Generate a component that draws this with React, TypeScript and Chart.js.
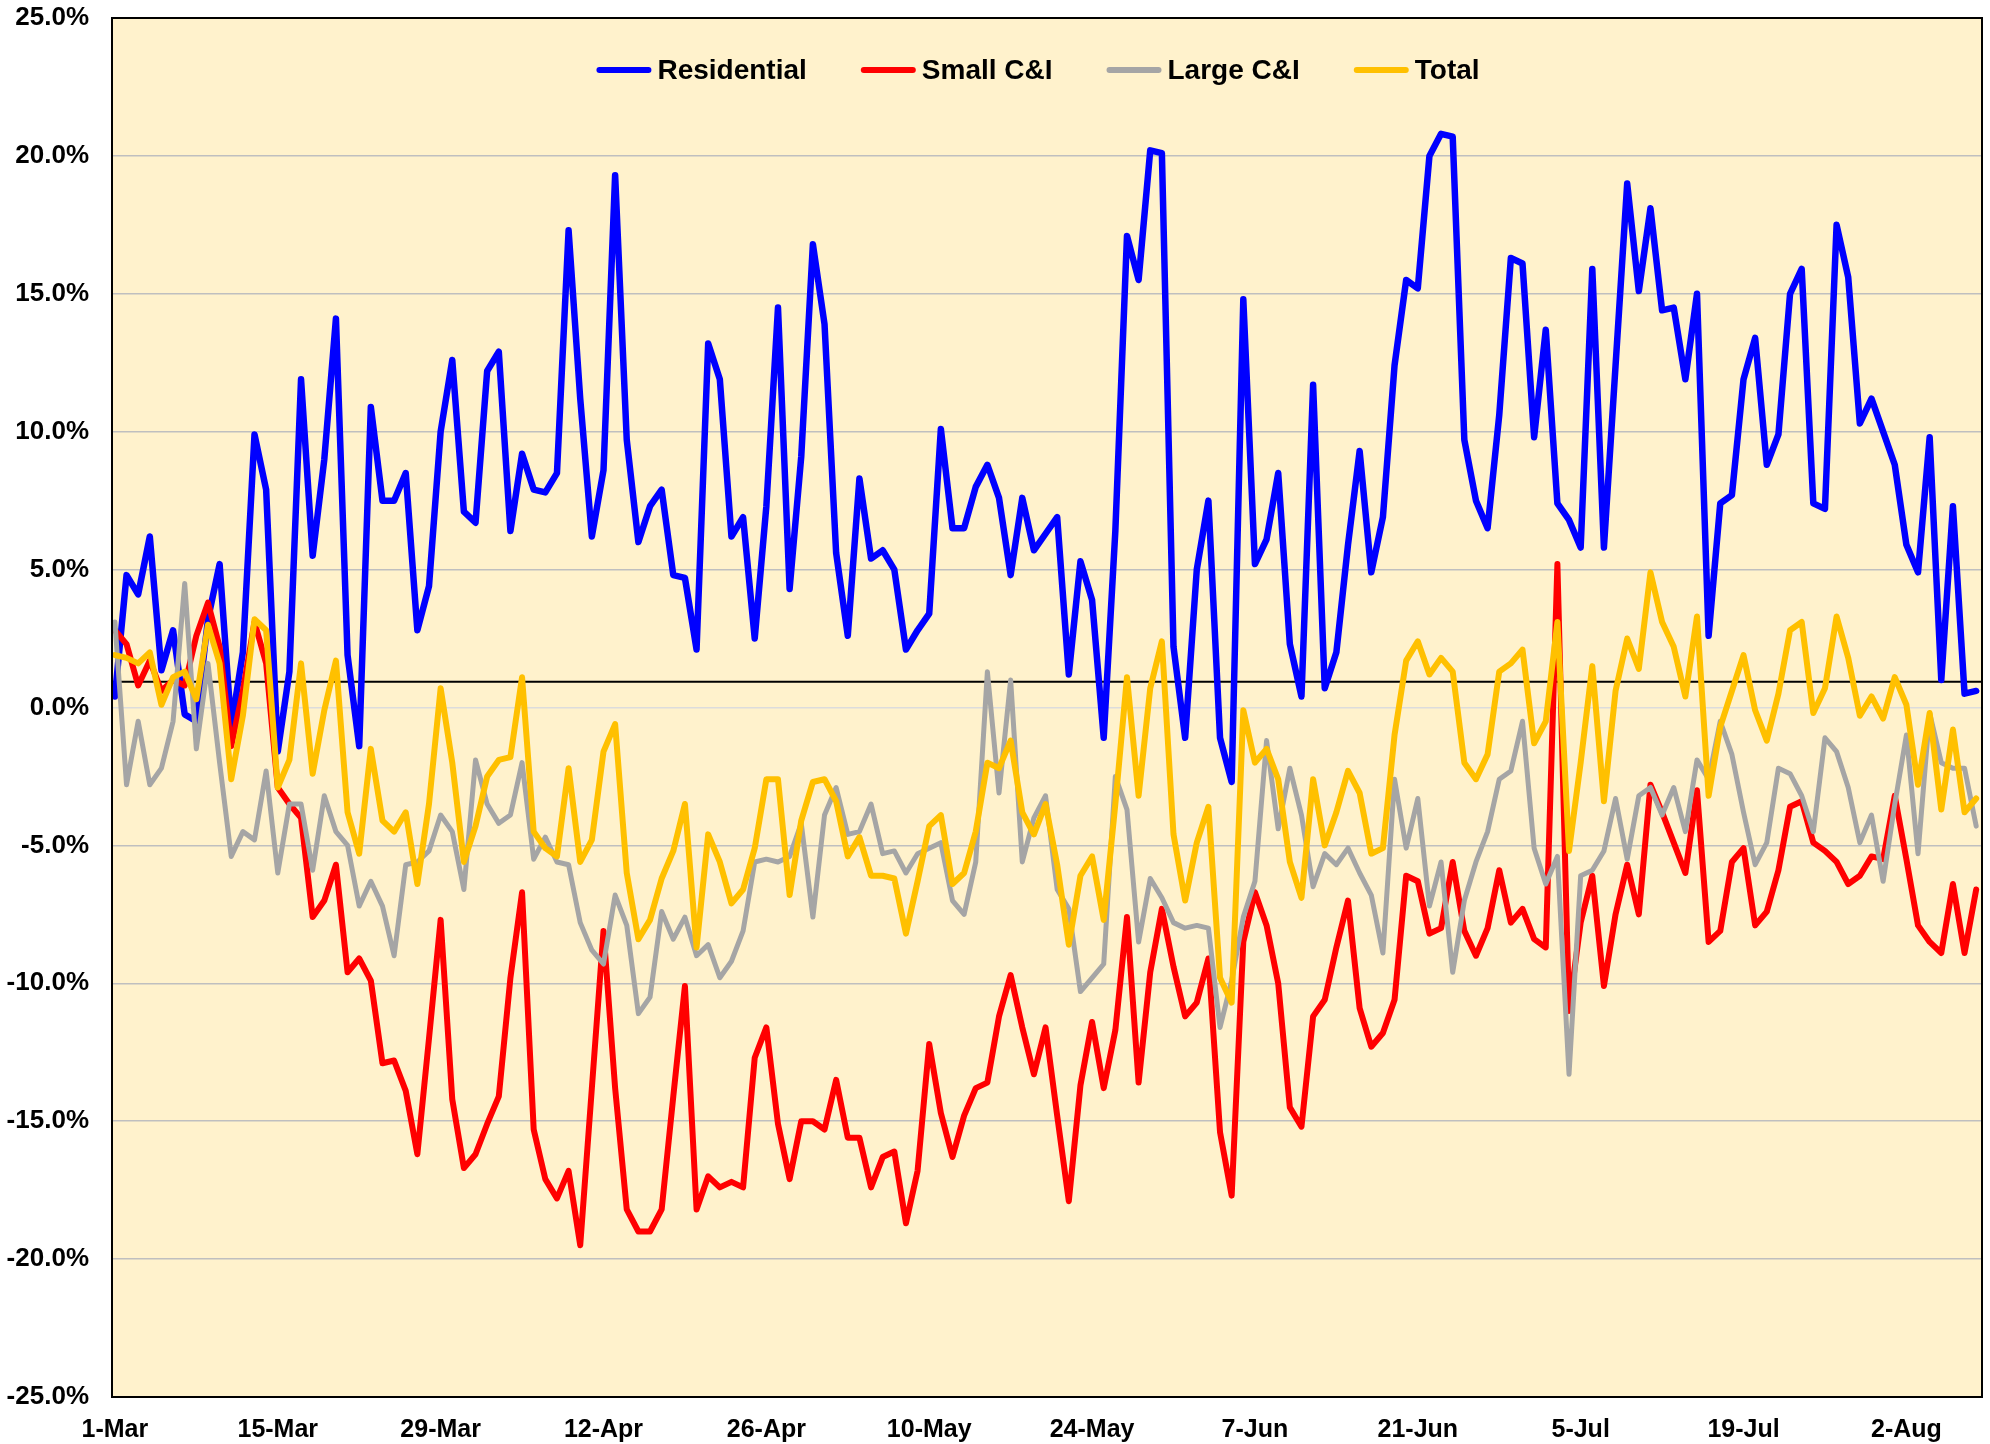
import React, { useEffect, useRef } from 'react';
import { Chart, registerables } from 'chart.js';

Chart.register(...registerables);

const tickDays = [0, 14, 28, 42, 56, 70, 84, 98, 112, 126, 140, 154];
const tickLabels = ['1-Mar', '15-Mar', '29-Mar', '12-Apr', '26-Apr', '10-May', '24-May', '7-Jun', '21-Jun', '5-Jul', '19-Jul', '2-Aug'];
const yTickValues = [-25, -20, -15, -10, -5, 0, 5, 10, 15, 20, 25];

const residential = [
  0.4, 4.8, 4.1, 6.2, 1.35, 2.8, -0.25, -0.5, 3.2, 5.2,
  -0.7, 2.0, 9.9, 7.9, -1.6, 1.3, 11.9, 5.5, 9.0, 14.1,
  1.9, -1.4, 10.9, 7.5, 7.5, 8.5, 2.8, 4.4, 10.0, 12.6,
  7.1, 6.7, 12.2, 12.9, 6.4, 9.2, 7.9, 7.8, 8.5, 17.3,
  11.2, 6.2, 8.6, 19.3, 9.7, 6.0, 7.3, 7.9, 4.8, 4.7,
  2.1, 13.2, 11.9, 6.2, 6.9, 2.5, 7.3, 14.5, 4.3, 9.1,
  16.8, 13.9, 5.6, 2.6, 8.3, 5.4, 5.7, 5.0, 2.1, 2.8,
  3.4, 10.1, 6.5, 6.5, 8.0, 8.8, 7.6, 4.8, 7.6, 5.7,
  6.3, 6.9, 1.2, 5.3, 3.9, -1.1, 6.4, 17.1, 15.5, 20.2,
  20.1, 2.2, -1.1, 5.0, 7.5, -1.1, -2.7, 14.8, 5.2, 6.1,
  8.5, 2.3, 0.4, 11.7, 0.7, 2.0, 5.9, 9.3, 4.9, 6.9,
  12.4, 15.5, 15.2, 20.0, 20.8, 20.7, 9.7, 7.5, 6.5, 10.6,
  16.3, 16.1, 9.8, 13.7, 7.4, 6.8, 5.8, 15.9, 5.8, 12.4,
  19.0, 15.1, 18.1, 14.4, 14.5, 11.9, 15.0, 2.6, 7.4, 7.7,
  11.9, 13.4, 8.8, 9.9, 15.0, 15.9, 7.4, 7.2, 17.5, 15.6,
  10.3, 11.2, 10.0, 8.8, 5.9, 4.9, 9.8, 1.0, 7.3, 0.5,
  0.6,
];

const smallCI = [
  2.8, 2.3, 0.8, 1.7, 0.6, 1.0, 0.8, 2.6, 3.8, 2.2,
  -1.4, 0.6, 3.1, 1.6, -2.9, -3.5, -4.0, -7.6, -7.0, -5.7,
  -9.6, -9.1, -9.9, -12.9, -12.8, -13.9, -16.2, -12.0, -7.7, -14.2,
  -16.7, -16.2, -15.1, -14.1, -9.8, -6.7, -15.3, -17.1, -17.8, -16.8,
  -19.5, -13.8, -8.1, -13.8, -18.2, -19.0, -19.0, -18.2, -14.1, -10.1,
  -18.2, -17.0, -17.4, -17.2, -17.4, -12.7, -11.6, -15.1, -17.1, -15.0,
  -15.0, -15.3, -13.5, -15.6, -15.6, -17.4, -16.3, -16.1, -18.7, -16.8,
  -12.2, -14.7, -16.3, -14.8, -13.8, -13.6, -11.2, -9.7, -11.6, -13.3,
  -11.6, -14.8, -17.9, -13.7, -11.4, -13.8, -11.7, -7.6, -13.6, -9.6,
  -7.3, -9.4, -11.2, -10.7, -9.1, -15.4, -17.7, -8.5, -6.7, -7.9,
  -10.0, -14.5, -15.2, -11.2, -10.6, -8.7, -7.0, -10.9, -12.3, -11.8,
  -10.6, -6.1, -6.3, -8.2, -8.0, -5.6, -8.1, -9.0, -8.0, -5.9,
  -7.8, -7.3, -8.4, -8.7, 5.2, -11.0, -7.8, -6.1, -10.1, -7.5,
  -5.7, -7.5, -2.8, -3.8, -4.9, -6.0, -3.0, -8.5, -8.1, -5.6,
  -5.1, -7.9, -7.4, -5.9, -3.6, -3.4, -4.9, -5.2, -5.6, -6.4,
  -6.1, -5.4, -5.5, -3.2, -5.5, -7.9, -8.5, -8.9, -6.4, -8.9,
  -6.6,
];

const largeCI = [
  3.1, -2.8, -0.5, -2.8, -2.2, -0.5, 4.5, -1.5, 1.6, -2.0,
  -5.4, -4.5, -4.8, -2.3, -6.0, -3.5, -3.5, -5.9, -3.2, -4.5,
  -5.0, -7.2, -6.3, -7.2, -9.0, -5.7, -5.6, -5.2, -3.9, -4.5,
  -6.6, -1.9, -3.5, -4.2, -3.9, -2.0, -5.5, -4.7, -5.6, -5.7,
  -7.8, -8.8, -9.3, -6.8, -7.9, -11.1, -10.5, -7.4, -8.4, -7.6,
  -9.0, -8.6, -9.8, -9.2, -8.1, -5.6, -5.5, -5.6, -5.4, -4.2,
  -7.6, -3.9, -2.9, -4.6, -4.5, -3.5, -5.3, -5.2, -6.0, -5.3,
  -5.1, -4.9, -7.0, -7.5, -5.6, 1.3, -3.1, 1.0, -5.6, -4.0,
  -3.2, -6.6, -7.3, -10.3, -9.8, -9.3, -2.5, -3.7, -8.5, -6.2,
  -6.9, -7.8, -8.0, -7.9, -8.0, -11.6, -9.9, -7.6, -6.3, -1.2,
  -4.4, -2.2, -3.9, -6.5, -5.3, -5.7, -5.1, -6.0, -6.8, -8.9,
  -2.6, -5.1, -3.3, -7.2, -5.6, -9.6, -7.0, -5.6, -4.5, -2.6,
  -2.3, -0.5, -5.1, -6.4, -5.4, -13.3, -6.1, -5.9, -5.2, -3.3,
  -5.5, -3.2, -2.9, -3.9, -2.9, -4.5, -1.9, -2.6, -0.5, -1.7,
  -3.8, -5.7, -4.9, -2.2, -2.4, -3.2, -4.5, -1.1, -1.6, -2.9,
  -4.9, -3.9, -6.3, -3.5, -1.0, -5.3, -0.2, -2.0, -2.2, -2.2,
  -4.3,
];

const total = [
  1.9, 1.8, 1.6, 2.0, 0.1, 1.1, 1.3, 0.3, 3.0, 1.6,
  -2.6, -0.3, 3.2, 2.8, -2.9, -1.9, 1.6, -2.4, -0.1, 1.7,
  -3.8, -5.3, -1.5, -4.1, -4.5, -3.8, -6.4, -3.5, 0.7, -2.0,
  -5.6, -4.3, -2.5, -1.9, -1.8, 1.1, -4.5, -5.1, -5.4, -2.2,
  -5.6, -4.8, -1.6, -0.6, -6.0, -8.4, -7.7, -6.2, -5.2, -3.5,
  -8.7, -4.6, -5.6, -7.1, -6.6, -5.1, -2.6, -2.6, -6.8, -4.1,
  -2.7, -2.6, -3.4, -5.4, -4.7, -6.1, -6.1, -6.2, -8.2, -6.3,
  -4.3, -3.9, -6.4, -6.0, -4.5, -2.0, -2.2, -1.2, -3.8, -4.6,
  -3.5, -5.7, -8.6, -6.1, -5.4, -7.7, -3.5, 1.1, -3.2, 0.7,
  2.4, -4.6, -7.0, -4.9, -3.6, -9.8, -10.7, -0.1, -2.0, -1.5,
  -2.6, -5.6, -6.9, -2.6, -5.0, -3.8, -2.3, -3.1, -5.3, -5.1,
  -1.0, 1.7, 2.4, 1.2, 1.8, 1.3, -2.0, -2.6, -1.7, 1.3,
  1.6, 2.1, -1.3, -0.5, 3.1, -5.2, -2.0, 1.5, -3.4, 0.6,
  2.5, 1.4, 4.9, 3.1, 2.2, 0.4, 3.3, -3.2, -0.7, 0.6,
  1.9, -0.1, -1.2, 0.5, 2.8, 3.1, -0.2, 0.7, 3.3, 1.8,
  -0.3, 0.4, -0.4, 1.1, 0.1, -2.8, -0.2, -3.7, -0.8, -3.8,
  -3.3,
];

const baselineValue = 0.93;

const X_MIN = -0.25;
const X_MAX = 160.5;
const FONT = '"Liberation Sans", Arial, Helvetica, sans-serif';

const toPoints = (arr: number[]) => arr.map((v, i) => ({ x: i, y: v }));

const backgroundPlugin = {
  id: 'plotBackground',
  beforeDraw(chart: any) {
    const { ctx, chartArea } = chart;
    ctx.save();
    ctx.fillStyle = '#ffffff';
    ctx.fillRect(0, 0, chart.width, chart.height);
    ctx.fillStyle = '#FFF2CC';
    ctx.fillRect(chartArea.left, chartArea.top, chartArea.right - chartArea.left, chartArea.bottom - chartArea.top);
    ctx.restore();
  },
  afterDraw(chart: any) {
    const { ctx, chartArea } = chart;
    ctx.save();
    ctx.strokeStyle = '#000000';
    ctx.lineWidth = 2;
    ctx.strokeRect(chartArea.left, chartArea.top, chartArea.right - chartArea.left, chartArea.bottom - chartArea.top);
    ctx.restore();
  },
};

const legendPlugin = {
  id: 'insideLegend',
  afterDraw(chart: any) {
    const { ctx, chartArea } = chart;
    const items = chart.data.datasets.filter((d: any) => d.label);
    ctx.save();
    ctx.font = `bold 28px ${FONT}`;
    const lineLen = 55;
    const gapText = 6;
    const gapItem = 54;
    const widths = items.map((d: any) => lineLen + gapText + ctx.measureText(d.label).width);
    const totalW = widths.reduce((a: number, b: number) => a + b, 0) + gapItem * (items.length - 1);
    let x = (chartArea.left + chartArea.right) / 2 - totalW / 2 - 9;
    const y = 70;
    items.forEach((d: any, i: number) => {
      ctx.strokeStyle = d.borderColor;
      ctx.lineWidth = 6;
      ctx.lineCap = 'round';
      ctx.beginPath();
      ctx.moveTo(x + 3, y);
      ctx.lineTo(x + lineLen - 3, y);
      ctx.stroke();
      ctx.fillStyle = '#000000';
      ctx.textBaseline = 'middle';
      ctx.textAlign = 'left';
      ctx.fillText(d.label, x + lineLen + gapText, y + 1);
      x += widths[i] + gapItem;
    });
    ctx.restore();
  },
};

export default function App() {
  const canvasRef = useRef<HTMLCanvasElement | null>(null);

  useEffect(() => {
    const canvas = canvasRef.current;
    if (!canvas) return;
    const lineBase = {
      pointRadius: 0,
      pointHoverRadius: 0,
      tension: 0,
      fill: false,
      borderJoinStyle: 'round' as const,
      borderCapStyle: 'round' as const,
    };
    const chart = new Chart(canvas, {
      type: 'line',
      data: {
        datasets: [
          { ...lineBase, label: 'Residential', data: toPoints(residential), borderColor: '#0000FF', backgroundColor: '#0000FF', borderWidth: 6.5, order: 4 },
          { ...lineBase, label: 'Small C&I', data: toPoints(smallCI), borderColor: '#FF0000', backgroundColor: '#FF0000', borderWidth: 6, order: 3 },
          { ...lineBase, label: 'Large C&I', data: toPoints(largeCI), borderColor: '#A5A5A5', backgroundColor: '#A5A5A5', borderWidth: 5, order: 2 },
          { ...lineBase, label: 'Total', data: toPoints(total), borderColor: '#FFC000', backgroundColor: '#FFC000', borderWidth: 6, order: 1 },
          { ...lineBase, label: '', data: [{ x: X_MIN, y: baselineValue }, { x: X_MAX, y: baselineValue }], borderColor: '#000000', backgroundColor: '#000000', borderWidth: 2, order: 5, borderCapStyle: 'butt' as const },
        ],
      },
      options: {
        responsive: false,
        maintainAspectRatio: false,
        animation: false,
        devicePixelRatio: 1,
        layout: { padding: { top: 18, right: 8, left: 0, bottom: 0 } },
        plugins: {
          legend: { display: false },
          tooltip: { enabled: false },
        },
        scales: {
          x: {
            type: 'linear',
            min: X_MIN,
            max: X_MAX,
            afterBuildTicks: (scale: any) => {
              scale.ticks = tickDays.map((v) => ({ value: v }));
            },
            afterFit: (scale: any) => {
              scale.height = 1444 - 1397;
              scale.paddingLeft = 0;
              scale.paddingRight = 0;
            },
            grid: { display: false, drawTicks: false },
            border: { display: false },
            ticks: {
              autoSkip: false,
              maxRotation: 0,
              padding: 18,
              color: '#000000',
              font: { family: FONT, size: 25, weight: 'bold' },
              callback: (value: any) => {
                const idx = tickDays.indexOf(Number(value));
                return idx >= 0 ? tickLabels[idx] : '';
              },
            },
          },
          y: {
            type: 'linear',
            min: -25,
            max: 25,
            afterBuildTicks: (scale: any) => {
              scale.ticks = yTickValues.map((v) => ({ value: v }));
            },
            afterFit: (scale: any) => {
              scale.width = 112;
              scale.paddingTop = 0;
              scale.paddingBottom = 0;
            },
            grid: {
              drawTicks: false,
              lineWidth: 1.5,
              color: (ctx: any) => (ctx.tick && ctx.tick.value === 0 ? '#DCDCDC' : '#BFBFBF'),
            },
            border: { display: false },
            ticks: {
              padding: 23,
              color: '#000000',
              font: { family: FONT, size: 26, weight: 'bold' },
              callback: (value: any) => `${Number(value).toFixed(1)}%`,
            },
          },
        },
      },
      plugins: [backgroundPlugin, legendPlugin],
    } as any);
    return () => {
      chart.destroy();
    };
  }, []);

  return (
    <div style={{ position: 'absolute', left: 0, top: 0, width: 1990, height: 1444, overflow: 'hidden', background: '#ffffff' }}>
      <canvas ref={canvasRef} width={1990} height={1444} style={{ display: 'block', width: '1990px', height: '1444px' }} />
    </div>
  );
}
